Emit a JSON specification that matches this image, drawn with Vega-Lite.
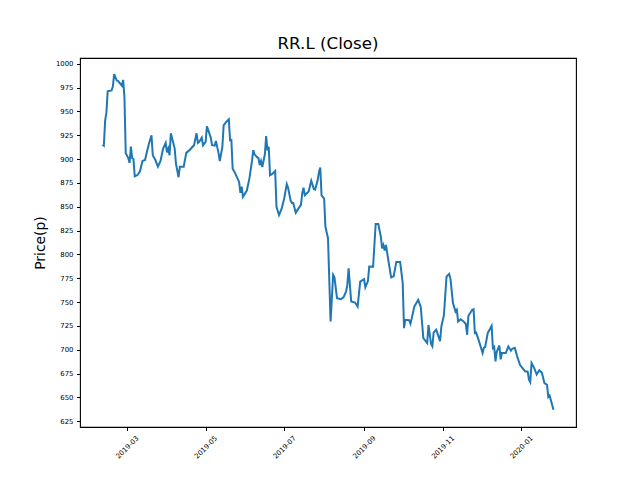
{
  "$schema": "https://vega.github.io/schema/vega-lite/v6.json",
  "width": 496,
  "height": 369,
  "autosize": {"type": "none"},
  "padding": {"left": 80, "top": 58, "right": 64, "bottom": 53},
  "background": "white",
  "title": {"text": "RR.L (Close)", "fontSize": 16.7, "font": "DejaVu Sans", "fontWeight": "normal", "color": "black", "offset": 8, "dy": 16, "baseline": "alphabetic", "anchor": "middle", "frame": "group"},
  "data": {
    "values": [
      {"date": "2019-02-10", "close": 915}, {"date": "2019-02-11", "close": 914}, {"date": "2019-02-12", "close": 940}, {"date": "2019-02-13", "close": 949}, {"date": "2019-02-14", "close": 971}, {"date": "2019-02-17", "close": 972}, {"date": "2019-02-18", "close": 976}, {"date": "2019-02-19", "close": 989}, {"date": "2019-02-21", "close": 982.5}, {"date": "2019-02-22", "close": 982}, {"date": "2019-02-25", "close": 977}, {"date": "2019-02-26", "close": 983}, {"date": "2019-02-27", "close": 965}, {"date": "2019-02-28", "close": 906},
      {"date": "2019-03-02", "close": 901}, {"date": "2019-03-03", "close": 896}, {"date": "2019-03-04", "close": 913}, {"date": "2019-03-05", "close": 901}, {"date": "2019-03-06", "close": 900}, {"date": "2019-03-07", "close": 882}, {"date": "2019-03-09", "close": 883}, {"date": "2019-03-11", "close": 887}, {"date": "2019-03-13", "close": 898}, {"date": "2019-03-15", "close": 899}, {"date": "2019-03-16", "close": 905}, {"date": "2019-03-18", "close": 916}, {"date": "2019-03-20", "close": 925}, {"date": "2019-03-21", "close": 904}, {"date": "2019-03-23", "close": 899}, {"date": "2019-03-25", "close": 892}, {"date": "2019-03-27", "close": 898}, {"date": "2019-03-29", "close": 911}, {"date": "2019-03-31", "close": 917},
      {"date": "2019-04-01", "close": 907}, {"date": "2019-04-02", "close": 911}, {"date": "2019-04-03", "close": 904}, {"date": "2019-04-04", "close": 927}, {"date": "2019-04-07", "close": 911}, {"date": "2019-04-08", "close": 895}, {"date": "2019-04-10", "close": 881}, {"date": "2019-04-11", "close": 892}, {"date": "2019-04-14", "close": 892}, {"date": "2019-04-16", "close": 906.5}, {"date": "2019-04-19", "close": 910}, {"date": "2019-04-22", "close": 914.5}, {"date": "2019-04-24", "close": 927}, {"date": "2019-04-25", "close": 917}, {"date": "2019-04-26", "close": 918}, {"date": "2019-04-28", "close": 922.5}, {"date": "2019-04-29", "close": 914.5},
      {"date": "2019-05-01", "close": 918}, {"date": "2019-05-02", "close": 934.4}, {"date": "2019-05-05", "close": 922.5}, {"date": "2019-05-06", "close": 914.5}, {"date": "2019-05-08", "close": 914}, {"date": "2019-05-09", "close": 919}, {"date": "2019-05-11", "close": 906.5}, {"date": "2019-05-12", "close": 898}, {"date": "2019-05-14", "close": 912.6}, {"date": "2019-05-15", "close": 935.4}, {"date": "2019-05-17", "close": 939}, {"date": "2019-05-19", "close": 941.7}, {"date": "2019-05-20", "close": 919.7}, {"date": "2019-05-21", "close": 920}, {"date": "2019-05-22", "close": 890}, {"date": "2019-05-24", "close": 885}, {"date": "2019-05-27", "close": 876}, {"date": "2019-05-28", "close": 864.6}, {"date": "2019-05-29", "close": 871}, {"date": "2019-05-30", "close": 860.4},
      {"date": "2019-06-02", "close": 867}, {"date": "2019-06-04", "close": 879.7}, {"date": "2019-06-06", "close": 898}, {"date": "2019-06-07", "close": 909.3}, {"date": "2019-06-08", "close": 905}, {"date": "2019-06-10", "close": 902}, {"date": "2019-06-11", "close": 901}, {"date": "2019-06-12", "close": 893.6}, {"date": "2019-06-13", "close": 898}, {"date": "2019-06-14", "close": 891.7}, {"date": "2019-06-16", "close": 905}, {"date": "2019-06-17", "close": 924}, {"date": "2019-06-18", "close": 909}, {"date": "2019-06-19", "close": 913}, {"date": "2019-06-20", "close": 883}, {"date": "2019-06-22", "close": 884.7}, {"date": "2019-06-24", "close": 887.5}, {"date": "2019-06-25", "close": 850}, {"date": "2019-06-27", "close": 841.3}, {"date": "2019-06-29", "close": 848},
      {"date": "2019-07-01", "close": 858.7}, {"date": "2019-07-03", "close": 873.7}, {"date": "2019-07-04", "close": 870}, {"date": "2019-07-06", "close": 856.5}, {"date": "2019-07-07", "close": 854}, {"date": "2019-07-08", "close": 854}, {"date": "2019-07-10", "close": 843.7}, {"date": "2019-07-12", "close": 848}, {"date": "2019-07-14", "close": 852}, {"date": "2019-07-15", "close": 864}, {"date": "2019-07-16", "close": 870}, {"date": "2019-07-17", "close": 862}, {"date": "2019-07-20", "close": 866}, {"date": "2019-07-22", "close": 877.2}, {"date": "2019-07-24", "close": 868.6}, {"date": "2019-07-25", "close": 868}, {"date": "2019-07-27", "close": 878}, {"date": "2019-07-28", "close": 886.6}, {"date": "2019-07-29", "close": 891.2}, {"date": "2019-07-30", "close": 862},
      {"date": "2019-08-01", "close": 858.5}, {"date": "2019-08-02", "close": 829}, {"date": "2019-08-04", "close": 817}, {"date": "2019-08-06", "close": 729.6}, {"date": "2019-08-08", "close": 778.5}, {"date": "2019-08-09", "close": 776}, {"date": "2019-08-11", "close": 754}, {"date": "2019-08-14", "close": 753}, {"date": "2019-08-16", "close": 755}, {"date": "2019-08-18", "close": 761}, {"date": "2019-08-19", "close": 768}, {"date": "2019-08-20", "close": 785.5}, {"date": "2019-08-22", "close": 750.6}, {"date": "2019-08-25", "close": 749.5}, {"date": "2019-08-27", "close": 745.3}, {"date": "2019-08-29", "close": 771.5},
      {"date": "2019-09-01", "close": 774}, {"date": "2019-09-02", "close": 765.5}, {"date": "2019-09-04", "close": 772}, {"date": "2019-09-05", "close": 787.2}, {"date": "2019-09-08", "close": 787}, {"date": "2019-09-10", "close": 832}, {"date": "2019-09-12", "close": 832}, {"date": "2019-09-14", "close": 818.6}, {"date": "2019-09-15", "close": 806.4}, {"date": "2019-09-16", "close": 810}, {"date": "2019-09-17", "close": 804}, {"date": "2019-09-18", "close": 810}, {"date": "2019-09-20", "close": 792.4}, {"date": "2019-09-22", "close": 776}, {"date": "2019-09-24", "close": 777}, {"date": "2019-09-26", "close": 792}, {"date": "2019-09-29", "close": 792},
      {"date": "2019-10-01", "close": 770}, {"date": "2019-10-02", "close": 722.7}, {"date": "2019-10-03", "close": 731.4}, {"date": "2019-10-06", "close": 731}, {"date": "2019-10-07", "close": 727.5}, {"date": "2019-10-08", "close": 733}, {"date": "2019-10-10", "close": 745.3}, {"date": "2019-10-13", "close": 752.3}, {"date": "2019-10-15", "close": 745}, {"date": "2019-10-17", "close": 712.2}, {"date": "2019-10-20", "close": 707}, {"date": "2019-10-21", "close": 726}, {"date": "2019-10-23", "close": 706}, {"date": "2019-10-24", "close": 703.5}, {"date": "2019-10-25", "close": 718}, {"date": "2019-10-27", "close": 721}, {"date": "2019-10-30", "close": 709}, {"date": "2019-10-31", "close": 724.5},
      {"date": "2019-11-02", "close": 736.6}, {"date": "2019-11-04", "close": 776.7}, {"date": "2019-11-06", "close": 779.6}, {"date": "2019-11-07", "close": 775}, {"date": "2019-11-09", "close": 748.9}, {"date": "2019-11-11", "close": 740}, {"date": "2019-11-12", "close": 742}, {"date": "2019-11-13", "close": 729.6}, {"date": "2019-11-15", "close": 732}, {"date": "2019-11-17", "close": 730}, {"date": "2019-11-19", "close": 727}, {"date": "2019-11-20", "close": 715.7}, {"date": "2019-11-21", "close": 735.6}, {"date": "2019-11-24", "close": 741.9}, {"date": "2019-11-25", "close": 742.5}, {"date": "2019-11-26", "close": 717.5}, {"date": "2019-11-27", "close": 718}, {"date": "2019-11-29", "close": 709.8},
      {"date": "2019-12-02", "close": 696.5}, {"date": "2019-12-03", "close": 702}, {"date": "2019-12-04", "close": 703}, {"date": "2019-12-06", "close": 717.5}, {"date": "2019-12-09", "close": 725}, {"date": "2019-12-10", "close": 701.8}, {"date": "2019-12-11", "close": 703}, {"date": "2019-12-12", "close": 687.8}, {"date": "2019-12-13", "close": 698}, {"date": "2019-12-15", "close": 704.5}, {"date": "2019-12-16", "close": 690}, {"date": "2019-12-17", "close": 696.5}, {"date": "2019-12-20", "close": 696.5}, {"date": "2019-12-22", "close": 703.5}, {"date": "2019-12-24", "close": 699}, {"date": "2019-12-25", "close": 701}, {"date": "2019-12-27", "close": 702}, {"date": "2019-12-29", "close": 692.4}, {"date": "2019-12-31", "close": 684.3},
      {"date": "2020-01-02", "close": 680.8}, {"date": "2020-01-04", "close": 677.4}, {"date": "2020-01-06", "close": 677}, {"date": "2020-01-07", "close": 668.6}, {"date": "2020-01-08", "close": 666}, {"date": "2020-01-09", "close": 686}, {"date": "2020-01-11", "close": 681}, {"date": "2020-01-13", "close": 674}, {"date": "2020-01-15", "close": 678.5}, {"date": "2020-01-17", "close": 676}, {"date": "2020-01-19", "close": 665}, {"date": "2020-01-21", "close": 663.3}, {"date": "2020-01-22", "close": 650.5}, {"date": "2020-01-23", "close": 652}, {"date": "2020-01-26", "close": 637.2}
    ]
  },
  "mark": {"type": "line", "color": "#1f77b4", "strokeWidth": 2},
  "encoding": {
    "x": {
      "field": "date", "type": "temporal",
      "scale": {"type": "utc", "domain": [{"year": 2019, "month": 1, "date": 23, "hours": 12, "utc": true}, {"year": 2020, "month": 2, "date": 12, "hours": 12, "utc": true}], "nice": false},
      "axis": {
        "title": null, "format": "%Y-%m",
        "values": [
          {"year": 2019, "month": 3, "date": 1, "utc": true},
          {"year": 2019, "month": 5, "date": 1, "utc": true},
          {"year": 2019, "month": 7, "date": 1, "utc": true},
          {"year": 2019, "month": 9, "date": 1, "utc": true},
          {"year": 2019, "month": 11, "date": 1, "utc": true},
          {"year": 2020, "month": 1, "date": 1, "utc": true}
        ],
        "labelAngle": -45, "labelAlign": "center", "labelBaseline": "middle", "labelPadding": 16.5,
        "labelFlush": false, "labelOverlap": false
      }
    },
    "y": {
      "field": "close", "type": "quantitative",
      "scale": {"domain": [619, 1006], "nice": false, "zero": false},
      "axis": {
        "title": "Price(p)", "format": "d", "values": [625, 650, 675, 700, 725, 750, 775, 800, 825, 850, 875, 900, 925, 950, 975, 1000],
        "titleX": -35.5, "titleY": 184.5, "titleAngle": -90, "titleAlign": "center", "titleBaseline": "alphabetic",
        "titleFont": "DejaVu Sans", "titleFontSize": 13.9, "titleFontWeight": "normal", "titleColor": "black",
        "labelPadding": 3.5, "labelOverlap": false
      }
    }
  },
  "config": {
    "view": {"stroke": "black", "strokeWidth": 1.1},
    "axis": {
      "grid": false, "domain": false, "ticks": true, "tickColor": "black", "tickWidth": 1, "tickSize": 3.5,
      "labelFont": "DejaVu Sans", "labelFontSize": 6.9, "labelColor": "black"
    }
  }
}
